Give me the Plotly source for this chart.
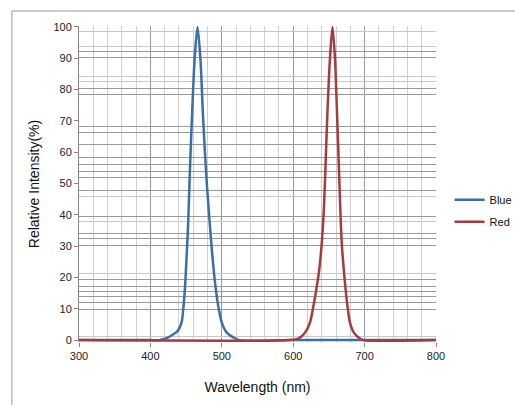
import plotly.graph_objects as go

# Wavelength (nm) and relative intensity (%)
blue_x = [300, 400, 412, 418, 425, 431, 437, 441, 444, 446, 448.5, 451, 453, 455, 458, 462, 466,
          470, 474, 479, 486, 490.5, 495, 500, 507, 516, 525, 600, 700, 800]
blue_y = [0, 0, 0, 0.3, 0.9, 1.7, 2.6, 4, 6, 9.8, 17, 28, 38, 52, 70, 90, 100,
          90, 70, 50, 29, 18.4, 10.9, 5.6, 2.4, 0.9, 0, 0, 0, 0]

red_x = [300, 595, 605, 611, 616.5, 623.5, 628, 633, 637, 640, 643, 645, 648, 651.5, 655,
         658.5, 661, 664, 668, 672.5, 676, 679.5, 685, 693.5, 698, 800]
red_y = [0, 0, 0.3, 1.1, 2.4, 5.6, 10.5, 17, 23.5, 31, 42, 54, 73, 90, 100,
         90, 75, 55, 31, 18.4, 10.9, 5.6, 2.4, 0.5, 0, 0]

series_names = ["Blue", "Red"]
series_colors = ["#3B6FA6", "#A63A3E"]

x_ticks = [300, 400, 500, 600, 700, 800]
y_ticks = [0, 10, 20, 30, 40, 50, 60, 70, 80, 90, 100]

# irregular horizontal grid lines seen in the (scanned) reference
grid_dark = [100, 92.0, 90.4, 80.3, 78.3, 68.2, 66.2, 62.4, 58.3, 56.1, 53.8, 51.9, 47.8,
             39.5, 34.1, 32.5, 30.3, 19.4, 17.2, 15.6, 14.0, 12.1, 9.9]
grid_light = [98.4, 93.9, 84.1, 82.5, 45.9, 37.9, 21.3, 1.3]

fig = go.Figure()
fig.add_trace(go.Scatter(x=blue_x, y=blue_y, mode="lines", name=series_names[0],
                         legendgroup="b",
                         line=dict(color=series_colors[0], width=2.5, shape="spline", smoothing=0.8)))
fig.add_trace(go.Scatter(x=red_x, y=red_y, mode="lines", name=series_names[1],
                         legendgroup="r",
                         line=dict(color=series_colors[1], width=2.5, shape="spline", smoothing=0.8)))
# helper trace so the overlay axis (light grid lines) is drawn
fig.add_trace(go.Scatter(x=[None], y=[None], yaxis="y2", showlegend=False, hoverinfo="skip"))

yr = [-0.6, 100.3]
fig.update_layout(
    width=515, height=405,
    margin=dict(l=79, r=79, t=26, b=63, autoexpand=False),
    paper_bgcolor="white", plot_bgcolor="white",
    font=dict(family="Liberation Sans, Arial, sans-serif", color="#222", size=11),
    showlegend=True,
    legend=dict(x=1.038, y=0.415, xanchor="left", yanchor="middle",
                font=dict(size=11, color="#111"), bgcolor="rgba(0,0,0,0)",
                traceorder="grouped", tracegroupgap=3),
    xaxis=dict(range=[300, 800], tickvals=x_ticks, showgrid=True, gridcolor="#9a9a9a",
               gridwidth=1, zeroline=False, showline=False,
               ticks="outside", ticklen=4, tickcolor="#888",
               tickfont=dict(size=11, color="#222"),
               minor=dict(dtick=20, showgrid=True, gridcolor="#d0d0d0", gridwidth=1, ticks=""),
               title=dict(text="Wavelength (nm)", font=dict(size=14, color="#111"), standoff=20)),
    yaxis=dict(range=yr, tickvals=y_ticks, showgrid=False, zeroline=False,
               showline=True, linecolor="#888", linewidth=1,
               ticks="outside", ticklen=4, tickcolor="#888",
               tickfont=dict(size=11, color="#222"),
               minor=dict(tickmode="array", tickvals=grid_dark, showgrid=True,
                          gridcolor="#9a9a9a", gridwidth=1, ticks=""),
               title=dict(text="Relative Intensity(%)", font=dict(size=14, color="#111"), standoff=10)),
    yaxis2=dict(range=yr, overlaying="y", side="left", tickvals=grid_light, showticklabels=False,
                showgrid=True, gridcolor="#c8c8c8", gridwidth=1, zeroline=False, ticks="",
                showline=False),
    shapes=[dict(type="rect", xref="paper", yref="paper", x0=-0.188, x1=1.25, y0=-0.25, y1=1.0475,
                 line=dict(color="#999", width=1), fillcolor="rgba(0,0,0,0)", layer="below")],
)

fig.write_html("out.html")
